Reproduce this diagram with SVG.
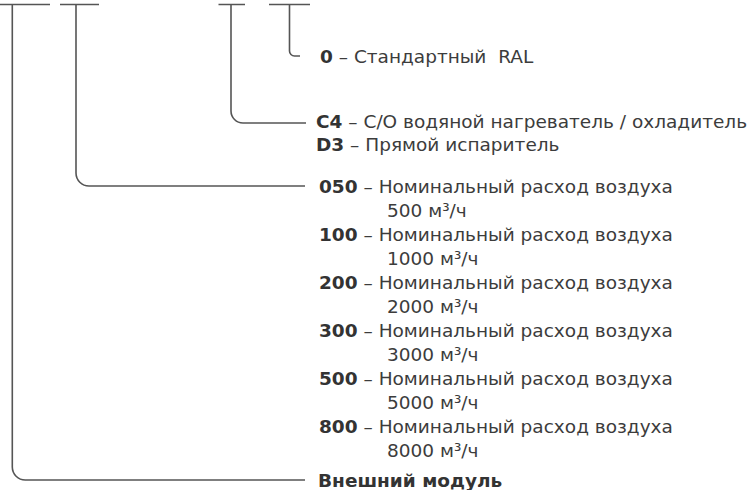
<svg xmlns="http://www.w3.org/2000/svg" width="754" height="490" viewBox="0 0 754 490">
<style>
.ln{fill:none;stroke:#555;stroke-width:1.6}
text{font-family:"DejaVu Sans","Liberation Sans",sans-serif;font-size:18.5px;fill:#3c3c3c}
.b{font-weight:bold;fill:#333}
</style>
<rect width="754" height="490" fill="#fff"/>
<g id="connectors">
<path class="ln" d="M0 4.5H50M12.3 4.5V467a13 13 0 0 0 13 13H305"/>
<path class="ln" d="M60 4.5H99M76 4.5V173a13 13 0 0 0 13 13H305"/>
<path class="ln" d="M218.5 4.5H245M231 4.5V111a12 12 0 0 0 12 12H306"/>
<path class="ln" d="M269 4.5H310M289.5 4.5V51a5 5 0 0 0 5 5H300"/>
</g>
<g id="color"><text x="320" y="63" xml:space="preserve"><tspan class="b">0</tspan> – Стандартный  RAL</text></g>
<g id="coil">
<text x="316" y="128"><tspan class="b">C4</tspan> – С/О водяной нагреватель / охладитель</text>
<text x="316" y="151"><tspan class="b">D3</tspan> – Прямой испаритель</text>
</g>
<g id="flow">
<text x="319" y="192.7"><tspan class="b">050</tspan> – Номинальный расход воздуха</text>
<text x="387" y="216.7">500 м³/ч</text>
<text x="319" y="240.7"><tspan class="b">100</tspan> – Номинальный расход воздуха</text>
<text x="387" y="264.7">1000 м³/ч</text>
<text x="319" y="288.7"><tspan class="b">200</tspan> – Номинальный расход воздуха</text>
<text x="387" y="312.7">2000 м³/ч</text>
<text x="319" y="336.7"><tspan class="b">300</tspan> – Номинальный расход воздуха</text>
<text x="387" y="360.7">3000 м³/ч</text>
<text x="319" y="384.7"><tspan class="b">500</tspan> – Номинальный расход воздуха</text>
<text x="387" y="408.7">5000 м³/ч</text>
<text x="319" y="432.7"><tspan class="b">800</tspan> – Номинальный расход воздуха</text>
<text x="387" y="456.7">8000 м³/ч</text>
</g>
<g id="module"><text x="318" y="487" class="b">Внешний модуль</text></g>
</svg>
